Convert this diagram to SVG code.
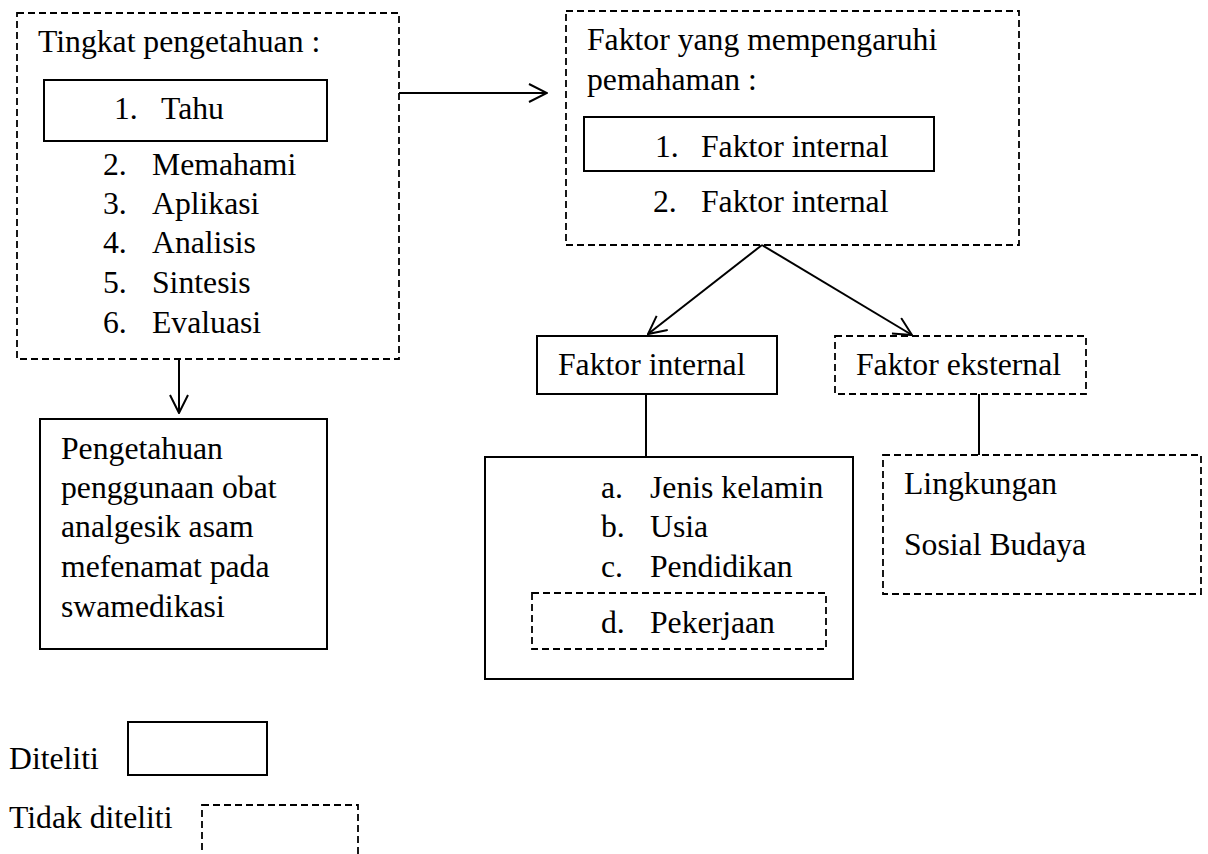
<svg xmlns="http://www.w3.org/2000/svg" width="1208" height="854" viewBox="0 0 1208 854">
<style>
  text { font-family: "Liberation Serif", "Times New Roman", serif; font-size: 31.7px; fill: #000; }
  .solid { fill: none; stroke: #000; stroke-width: 2; }
  .dash { fill: none; stroke: #000; stroke-width: 1.8; stroke-dasharray: 7 4; }
  .conn { fill: none; stroke: #000; stroke-width: 2; }
</style>
<defs>
  <marker id="arr" viewBox="0 0 20 20" refX="19" refY="10" markerWidth="20" markerHeight="20" markerUnits="userSpaceOnUse" orient="auto">
    <path d="M1,1 L19,10 L1,19" fill="none" stroke="#000" stroke-width="2"/>
  </marker>
</defs>
<rect width="1208" height="854" fill="#fff"/>

<g id="tingkat">
  <rect class="dash" x="17" y="13" width="382" height="346"/>
  <text x="38" y="52">Tingkat pengetahuan :</text>
  <rect class="solid" x="44" y="80" width="283" height="61"/>
  <text x="114" y="119">1.</text><text x="161" y="119">Tahu</text>
  <text x="103" y="175">2.</text><text x="152" y="175">Memahami</text>
  <text x="103" y="214">3.</text><text x="152" y="214">Aplikasi</text>
  <text x="103" y="253">4.</text><text x="152" y="253">Analisis</text>
  <text x="103" y="293">5.</text><text x="152" y="293">Sintesis</text>
  <text x="103" y="333">6.</text><text x="152" y="333">Evaluasi</text>
</g>

<g id="pengetahuan">
  <rect class="solid" x="40" y="419" width="287" height="230"/>
  <text x="61" y="459">Pengetahuan</text>
  <text x="61" y="498">penggunaan obat</text>
  <text x="61" y="537">analgesik asam</text>
  <text x="61" y="577">mefenamat pada</text>
  <text x="61" y="617">swamedikasi</text>
</g>

<g id="faktor">
  <rect class="dash" x="566" y="11" width="453" height="234"/>
  <text x="587" y="50">Faktor yang mempengaruhi</text>
  <text x="587" y="90">pemahaman :</text>
  <rect class="solid" x="584" y="117" width="350" height="54"/>
  <text x="655" y="157">1.</text><text x="701" y="157">Faktor internal</text>
  <text x="653" y="212">2.</text><text x="701" y="212">Faktor internal</text>
</g>

<g id="internal">
  <rect class="solid" x="537" y="336" width="240" height="58"/>
  <text x="558" y="375">Faktor internal</text>
</g>

<g id="eksternal">
  <rect class="dash" x="835" y="336" width="251" height="58"/>
  <text x="856" y="375">Faktor eksternal</text>
</g>

<g id="internal-list">
  <rect class="solid" x="485" y="457" width="368" height="222"/>
  <text x="601" y="498">a.</text><text x="650" y="498">Jenis kelamin</text>
  <text x="601" y="537">b.</text><text x="650" y="537">Usia</text>
  <text x="601" y="577">c.</text><text x="650" y="577">Pendidikan</text>
  <rect class="dash" x="532" y="593" width="294" height="56"/>
  <text x="601" y="633">d.</text><text x="650" y="633">Pekerjaan</text>
</g>

<g id="eksternal-list">
  <rect class="dash" x="883" y="455" width="318" height="139"/>
  <text x="904" y="494">Lingkungan</text>
  <text x="904" y="555">Sosial Budaya</text>
</g>

<g id="legend">
  <text x="9" y="769">Diteliti</text>
  <rect class="solid" x="128" y="722" width="139" height="53"/>
  <text x="9" y="828">Tidak diteliti</text>
  <rect class="dash" x="202" y="805" width="156" height="70"/>
</g>

<g id="connectors">
  <line class="conn" x1="399" y1="93" x2="547" y2="93" marker-end="url(#arr)"/>
  <line class="conn" x1="179" y1="359" x2="179" y2="413" marker-end="url(#arr)"/>
  <line class="conn" x1="762" y1="245" x2="648" y2="334" marker-end="url(#arr)"/>
  <line class="conn" x1="762" y1="245" x2="912" y2="335" marker-end="url(#arr)"/>
  <line class="conn" x1="646" y1="394" x2="646" y2="457"/>
  <line class="conn" x1="979" y1="394" x2="979" y2="455"/>
</g>
</svg>
